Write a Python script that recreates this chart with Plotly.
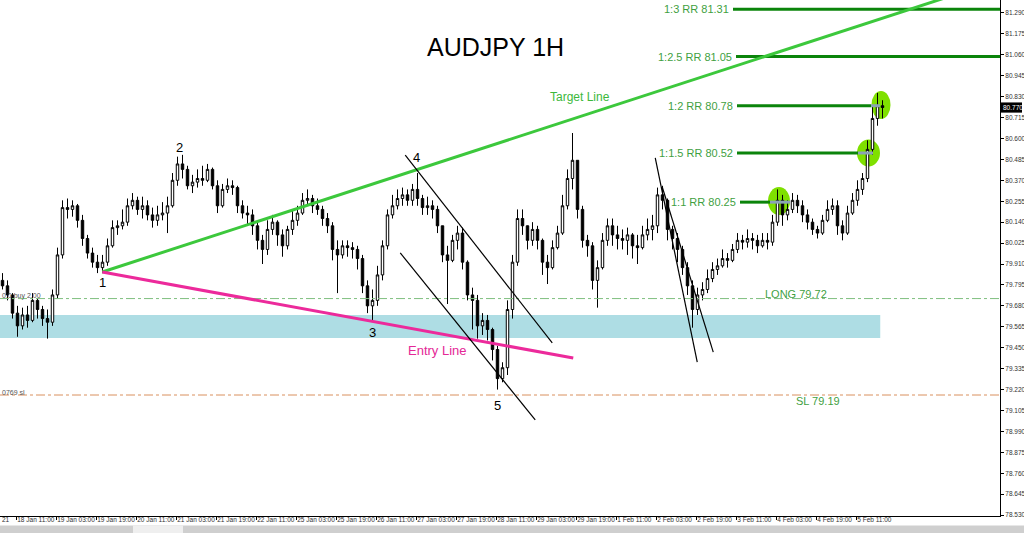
import plotly.graph_objects as go

# ---------------- data (2-hour candles) ----------------
first_open = 79.82
closes = [79.79, 79.74, 79.64, 79.57, 79.63, 79.60, 79.71, 79.66, 79.61, 79.59,
          79.74, 79.96, 80.22, 80.21, 80.23, 80.15, 80.05, 79.97, 79.92, 79.89,
          79.92, 80.01, 80.11, 80.12, 80.14, 80.23, 80.26, 80.21, 80.23, 80.18,
          80.15, 80.18, 80.19, 80.23, 80.37, 80.46, 80.43, 80.34, 80.36, 80.38,
          80.37, 80.43, 80.34, 80.23, 80.32, 80.34, 80.33, 80.23, 80.19, 80.18,
          80.12, 80.04, 79.99, 80.10, 80.14, 80.07, 80.01, 80.10, 80.15, 80.19,
          80.26, 80.27, 80.23, 80.21, 80.16, 80.12, 79.99, 79.96, 80.01, 80.00,
          79.99, 79.94, 79.79, 79.68, 79.71, 79.85, 80.01, 80.18, 80.23, 80.27,
          80.29, 80.26, 80.32, 80.27, 80.22, 80.23, 80.21, 80.12, 79.96, 79.93,
          80.04, 80.08, 79.92, 79.74, 79.71, 79.57, 79.60, 79.55, 79.44, 79.28,
          79.34, 79.66, 79.92, 80.16, 80.12, 80.04, 80.10, 80.04, 79.92, 79.89,
          80.00, 80.08, 80.23, 80.38, 80.48, 80.21, 80.04, 80.01, 79.82, 79.89,
          80.04, 80.12, 80.07, 80.05, 80.04, 80.07, 80.01, 80.00, 80.07, 80.10,
          80.12, 80.29, 80.26, 80.10, 80.05, 79.99, 79.89, 79.79, 79.66, 79.74,
          79.77, 79.83, 79.88, 79.90, 79.94, 79.93, 79.99, 80.04, 80.03, 80.05,
          80.04, 80.01, 80.04, 80.03, 80.14, 80.26, 80.18, 80.21, 80.26, 80.23,
          80.18, 80.14, 80.10, 80.08, 80.15, 80.21, 80.23, 80.12, 80.08, 80.19,
          80.26, 80.32, 80.38, 80.54, 80.71, 80.78, 80.77]
highs = [79.86, 79.82, 79.75, 79.68, 79.67, 79.68, 79.75, 79.72, 79.68, 79.66,
         79.77, 80.00, 80.26, 80.27, 80.26, 80.24, 80.18, 80.07, 80.00, 79.96,
         79.96, 80.05, 80.15, 80.15, 80.21, 80.27, 80.30, 80.28, 80.28, 80.26,
         80.22, 80.23, 80.25, 80.28, 80.41, 80.50, 80.51, 80.45, 80.40, 80.43,
         80.45, 80.46, 80.44, 80.37, 80.35, 80.38, 80.37, 80.34, 80.26, 80.23,
         80.21, 80.14, 80.07, 80.15, 80.18, 80.15, 80.10, 80.12, 80.21, 80.23,
         80.30, 80.32, 80.29, 80.27, 80.23, 80.19, 80.14, 80.04, 80.04, 80.04,
         80.03, 80.01, 79.96, 79.82, 79.77, 79.90, 80.04, 80.21, 80.29, 80.32,
         80.33, 80.32, 80.35, 80.41, 80.29, 80.28, 80.26, 80.23, 80.12, 80.01,
         80.07, 80.12, 80.11, 79.93, 79.78, 79.74, 79.64, 79.63, 79.56, 79.46,
         79.37, 79.71, 79.96, 80.21, 80.21, 80.11, 80.14, 80.12, 80.05, 79.96,
         80.04, 80.12, 80.29, 80.43, 80.63, 80.48, 80.23, 80.07, 80.03, 79.93,
         80.08, 80.16, 80.16, 80.12, 80.10, 80.11, 80.08, 80.07, 80.12, 80.16,
         80.18, 80.33, 80.34, 80.27, 80.12, 80.08, 80.01, 79.92, 79.82, 79.78,
         79.81, 79.88, 79.92, 79.94, 79.99, 79.97, 80.02, 80.08, 80.07, 80.10,
         80.08, 80.07, 80.08, 80.08, 80.18, 80.32, 80.29, 80.26, 80.30, 80.29,
         80.26, 80.21, 80.16, 80.12, 80.18, 80.26, 80.27, 80.26, 80.15, 80.23,
         80.30, 80.37, 80.41, 80.59, 80.78, 80.85, 80.81]
lows = [79.77, 79.71, 79.61, 79.51, 79.55, 79.56, 79.59, 79.61, 79.57, 79.50,
        79.57, 79.72, 79.94, 80.16, 80.17, 80.11, 80.01, 79.94, 79.89, 79.86,
        79.86, 79.90, 80.00, 80.07, 80.10, 80.12, 80.21, 80.18, 80.16, 80.15,
        80.11, 80.12, 80.15, 80.08, 80.22, 80.34, 80.38, 80.32, 80.30, 80.33,
        80.34, 80.36, 80.32, 80.19, 80.22, 80.30, 80.29, 80.19, 80.16, 80.12,
        80.07, 79.99, 79.91, 79.96, 80.07, 80.01, 79.95, 79.99, 80.07, 80.12,
        80.18, 80.23, 80.19, 80.18, 80.12, 80.08, 79.93, 79.75, 79.94, 79.95,
        79.94, 79.88, 79.75, 79.64, 79.60, 79.68, 79.82, 79.99, 80.16, 80.21,
        80.23, 80.23, 80.23, 80.23, 80.18, 80.18, 80.16, 80.08, 79.92, 79.69,
        79.92, 79.99, 79.88, 79.71, 79.55, 79.50, 79.52, 79.49, 79.38, 79.22,
        79.26, 79.30, 79.61, 79.90, 80.07, 79.99, 80.01, 79.99, 79.85, 79.80,
        79.88, 79.99, 80.07, 80.21, 80.32, 80.16, 80.00, 79.95, 79.77, 79.67,
        79.88, 80.01, 80.01, 79.99, 79.99, 79.96, 79.94, 79.91, 79.99, 80.04,
        80.04, 80.08, 80.21, 80.04, 79.99, 79.92, 79.85, 79.74, 79.56, 79.63,
        79.71, 79.75, 79.81, 79.85, 79.89, 79.89, 79.92, 79.97, 79.99, 80.00,
        79.99, 79.97, 80.00, 79.99, 80.01, 80.12, 80.12, 80.15, 80.19, 80.19,
        80.14, 80.10, 80.07, 80.05, 80.07, 80.14, 80.18, 80.07, 80.04, 80.07,
        80.18, 80.23, 80.29, 80.36, 80.51, 80.67, 80.71]
opens = [first_open] + closes[:-1]
bar_hours = [2 * k + 0.5 for k in range(len(closes))]

x_tick_labels = ["18 Jan 11:00", "19 Jan 03:00", "19 Jan 19:00", "20 Jan 11:00",
                 "21 Jan 03:00", "21 Jan 19:00", "22 Jan 11:00", "25 Jan 03:00",
                 "25 Jan 19:00", "26 Jan 11:00", "27 Jan 03:00", "27 Jan 19:00",
                 "28 Jan 11:00", "29 Jan 03:00", "29 Jan 19:00", "1 Feb 11:00",
                 "2 Feb 03:00", "2 Feb 19:00", "3 Feb 11:00", "4 Feb 03:00",
                 "4 Feb 19:00", "5 Feb 11:00"]
x_tick_hours = [6 + 16 * j for j in range(len(x_tick_labels))]

y_ticks = [78.530, 78.645, 78.760, 78.875, 78.990, 79.105, 79.220, 79.335,
           79.450, 79.565, 79.680, 79.795, 79.910, 80.025, 80.140, 80.255,
           80.370, 80.485, 80.600, 80.715, 80.830, 80.945, 81.060, 81.175, 81.290]

last_price = 80.770
long_level = 79.72
sl_level = 79.19
zone_low, zone_high = 79.503, 79.630

rr_labels = ["1:3 RR 81.31", "1:2.5 RR 81.05", "1:2 RR 80.78", "1:1.5 RR 80.52", "1:1 RR 80.25"]
rr_levels = [81.31, 81.05, 80.78, 80.52, 80.25]

# trend lines: (hour0, price0, hour1, price1)
target_line = (40.4, 79.866, 399.5, 81.471)
entry_line = (40.4, 79.866, 228.8, 79.393)
channel_lines = [(161.6, 80.509, 220.4, 79.476),
                 (159.6, 79.971, 213.6, 79.053),
                 (261.6, 80.493, 278.4, 79.371),
                 (264.4, 80.333, 284.8, 79.426)]
wave_labels = ["1", "2", "3", "4", "5"]
wave_hours = [40.3, 71.1, 148.3, 165.9, 198.3]
wave_prices = [79.806, 80.553, 79.531, 80.498, 79.135]

FONT = "Liberation Sans, Arial"
SMALL = "Liberation Sans Narrow, Liberation Sans, Arial"

# ---------------- figure ----------------
fig = go.Figure()
fig.add_trace(go.Candlestick(
    x=bar_hours, open=opens, high=highs, low=lows, close=closes,
    increasing=dict(line=dict(color="black", width=1), fillcolor="white"),
    decreasing=dict(line=dict(color="black", width=1), fillcolor="black"),
    whiskerwidth=0, showlegend=False, hoverinfo="skip"))

shapes = []
# support zone
shapes.append(dict(type="rect", xref="x", yref="y", x0=-0.5, x1=351.6,
                   y0=zone_low, y1=zone_high, fillcolor="#aedde4",
                   line=dict(width=0), layer="below"))
# circles
for cx, cy, rx, ry in [(311.1, 80.256, 4.4, 0.077), (346.9, 80.520, 4.6, 0.074),
                       (351.9, 80.784, 3.8, 0.077)]:
    shapes.append(dict(type="circle", xref="x", yref="y", x0=cx - rx, x1=cx + rx,
                       y0=cy - ry, y1=cy + ry, fillcolor="#7fe000",
                       line=dict(width=0), layer="below"))
# long / SL dash-dot lines
shapes.append(dict(type="line", xref="paper", yref="y", x0=0, x1=1, y0=long_level,
                   y1=long_level, line=dict(color="#7fbf7f", width=1, dash="dashdot")))
shapes.append(dict(type="line", xref="paper", yref="y", x0=0, x1=1, y0=sl_level,
                   y1=sl_level, line=dict(color="#d9905f", width=1, dash="dashdot")))
# RR lines
rr_starts = [292.7, 293.9, 294.3, 294.3, 295.5]
rr_green_end = [399.5, 399.5, 347.9, 342.7, 307.5]
rr_gray_end = [None, None, 351.5, 348.7, 315.5]
for lv, x0, x1, x2 in zip(rr_levels, rr_starts, rr_green_end, rr_gray_end):
    shapes.append(dict(type="line", xref="x", yref="y", x0=x0, x1=x1, y0=lv, y1=lv,
                       line=dict(color="#0b840b", width=3)))
    if x2 is not None:
        shapes.append(dict(type="line", xref="x", yref="y", x0=x1, x1=x2, y0=lv, y1=lv,
                           line=dict(color="#8aa4b4", width=3)))
# trend lines
t = target_line
shapes.append(dict(type="line", xref="x", yref="y", x0=t[0], y0=t[1], x1=t[2], y1=t[3],
                   line=dict(color="#3cc83c", width=3)))
e = entry_line
shapes.append(dict(type="line", xref="x", yref="y", x0=e[0], y0=e[1], x1=e[2], y1=e[3],
                   line=dict(color="#ec2a9b", width=3)))
for c in channel_lines:
    shapes.append(dict(type="line", xref="x", yref="y", x0=c[0], y0=c[1], x1=c[2], y1=c[3],
                       line=dict(color="black", width=1.2)))
# bottom gray tab bar
shapes.append(dict(type="rect", xref="paper", yref="paper", x0=-0.01, x1=1.03,
                   y0=-0.0185, y1=-0.04, fillcolor="#cfcfcf", line=dict(width=0),
                   layer="below"))
shapes.append(dict(type="rect", xref="paper", yref="paper", x0=0.133, x1=0.183,
                   y0=-0.0185, y1=-0.04, fillcolor="#efefef", line=dict(width=0),
                   layer="below"))
# last price box
shapes.append(dict(type="rect", xref="paper", yref="y", x0=1.0, x1=1.022,
                   y0=last_price - 0.028, y1=last_price + 0.028,
                   fillcolor="black", line=dict(width=0)))

ann = []
ann.append(dict(text="AUDJPY 1H", xref="paper", yref="paper", x=0.495, y=0.909,
                xanchor="center", yanchor="middle", showarrow=False,
                font=dict(family=FONT, size=25, color="black")))
ann.append(dict(text="Target Line", xref="x", yref="y", x=231.5, y=80.828, showarrow=False,
                xanchor="center", yanchor="middle",
                font=dict(family=FONT, size=12, color="#3cb83c")))
ann.append(dict(text="Entry Line", xref="x", yref="y", x=174.3, y=79.432, showarrow=False,
                xanchor="center", yanchor="middle",
                font=dict(family=FONT, size=13, color="#e42896")))
for lab, hx, py in zip(wave_labels, wave_hours, wave_prices):
    ann.append(dict(text=lab, xref="x", yref="y", x=hx, y=py, showarrow=False,
                    xanchor="center", yanchor="middle",
                    font=dict(family=FONT, size=13, color="black")))
for lab, lv, x0 in zip(rr_labels, rr_levels, rr_starts):
    ann.append(dict(text=lab, xref="x", yref="y", x=x0 - 0.8, y=lv, xanchor="right",
                    yanchor="middle", showarrow=False,
                    font=dict(family=FONT, size=11, color="#3f9f3f")))
ann.append(dict(text="LONG 79.72", xref="x", yref="y", x=317.9, y=79.745, showarrow=False,
                xanchor="center", yanchor="middle",
                font=dict(family=FONT, size=11, color="#3f9f3f")))
ann.append(dict(text="SL 79.19", xref="x", yref="y", x=326.7, y=79.157, showarrow=False,
                xanchor="center", yanchor="middle",
                font=dict(family=FONT, size=11, color="#3f9f3f")))
ann.append(dict(text="0.0 buy 2.00", xref="paper", yref="y", x=0.0, y=79.735, xanchor="left",
                yanchor="middle", showarrow=False, font=dict(family=FONT, size=7, color="#555")))
ann.append(dict(text="0769 sl", xref="paper", yref="y", x=0.0, y=79.205, xanchor="left",
                yanchor="middle", showarrow=False, font=dict(family=FONT, size=7, color="#555")))
ann.append(dict(text="21", xref="paper", yref="paper", x=0.0, y=0.003, xanchor="left",
                yanchor="top", showarrow=False,
                font=dict(family=SMALL, size=6.5, color="#333")))
ann.append(dict(text=f"{last_price:.3f}", xref="paper", yref="y", x=1.0015, y=last_price,
                xanchor="left", yanchor="middle", showarrow=False, borderpad=0,
                font=dict(family=SMALL, size=6.5, color="white")))

fig.update_layout(
    width=1024, height=533,
    margin=dict(l=0, r=24, t=0, b=17, autoexpand=False),
    paper_bgcolor="white", plot_bgcolor="white",
    shapes=shapes, annotations=ann, showlegend=False,
    xaxis=dict(range=[-0.5, 399.5], tickvals=x_tick_hours, ticktext=x_tick_labels,
               ticks="outside", ticklen=3, tickcolor="black", showline=True,
               linecolor="black", linewidth=1, showgrid=False, zeroline=False,
               tickangle=0, automargin=False,
               ticklabelposition="outside right", ticklabelstandoff=-3,
               rangeslider=dict(visible=False),
               tickfont=dict(family=SMALL, size=6.5, color="#333"),
               fixedrange=True),
    yaxis=dict(range=[78.525, 81.361], side="right", tickvals=y_ticks,
               ticktext=[f"{v:.3f}" for v in y_ticks], ticks="outside", ticklen=3,
               tickcolor="black", showline=True, linecolor="black", linewidth=1,
               showgrid=False, zeroline=False, automargin=False,
               tickfont=dict(family=SMALL, size=6.5, color="#333"),
               fixedrange=True),
)

fig.write_html("out.html", config={"displayModeBar": False},
               post_script="document.body.style.margin='0px';document.body.style.padding='0px';")
